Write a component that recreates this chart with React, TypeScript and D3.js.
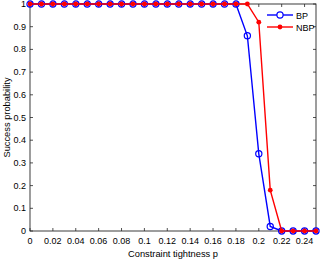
import React from "react";
import * as d3 from "d3";

const pValues = [0,0.01,0.02,0.03,0.04,0.05,0.06,0.07,0.08,0.09,0.1,0.11,0.12,0.13,0.14,0.15,0.16,0.17,0.18,0.19,0.2,0.21,0.22,0.23,0.24,0.25];
const bpValues = [1,1,1,1,1,1,1,1,1,1,1,1,1,1,1,1,1,1,1,0.86,0.34,0.02,0,0,0,0];
const nbpValues = [1,1,1,1,1,1,1,1,1,1,1,1,1,1,1,1,1,1,1,1,0.92,0.18,0,0,0,0];
const xTicks = [0,0.02,0.04,0.06,0.08,0.1,0.12,0.14,0.16,0.18,0.2,0.22,0.24];
const yTicks = [0,0.1,0.2,0.3,0.4,0.5,0.6,0.7,0.8,0.9,1];
const seriesNames = ["BP", "NBP"];

const W = 322, H = 261;
const m = { left: 30, right: 316, top: 4, bottom: 231 };

export default function App() {
  const x = d3.scaleLinear().domain([0, 0.25]).range([m.left, m.right]);
  const y = d3.scaleLinear().domain([0, 1]).range([m.bottom, m.top]);
  const line = d3.line<number>().x((_, i) => x(pValues[i])).y((d) => y(d));
  const font = "'Liberation Sans', Arial, sans-serif";
  const axisColor = "#262626";
  const fmt = (v: number) => (v === 0 ? "0" : String(+v.toFixed(2)));
  return (
    <svg width={W} height={H} style={{ position: "absolute", left: 0, top: 0, background: "#fff" }} fontFamily={font}>
      <rect x={0} y={0} width={W} height={H} fill="#fff" />
      {xTicks.map((t) => (
        <g key={"xt" + t}>
          <line x1={x(t)} x2={x(t)} y1={m.bottom} y2={m.bottom - 3} stroke={axisColor} strokeWidth={0.8} />
          <line x1={x(t)} x2={x(t)} y1={m.top} y2={m.top + 3} stroke={axisColor} strokeWidth={0.8} />
          <text x={x(t)} y={m.bottom + 13} fontSize={9} textAnchor="middle" fill="#000">{fmt(t)}</text>
        </g>
      ))}
      {yTicks.map((t) => (
        <g key={"yt" + t}>
          <line x1={m.left} x2={m.left + 3} y1={y(t)} y2={y(t)} stroke={axisColor} strokeWidth={0.8} />
          <line x1={m.right} x2={m.right - 3} y1={y(t)} y2={y(t)} stroke={axisColor} strokeWidth={0.8} />
          <text x={m.left - 4} y={y(t) + 3} fontSize={9} textAnchor="end" fill="#000">{fmt(t)}</text>
        </g>
      ))}
      <rect x={m.left} y={m.top} width={m.right - m.left} height={m.bottom - m.top} fill="none" stroke={axisColor} strokeWidth={0.9} />
      <path d={line(bpValues) || ""} fill="none" stroke="#0000ff" strokeWidth={1.4} />
      {bpValues.map((v, i) => (
        <circle key={"bp" + i} cx={x(pValues[i])} cy={y(v)} r={3.1} fill="none" stroke="#0000ff" strokeWidth={1.2} />
      ))}
      <path d={line(nbpValues) || ""} fill="none" stroke="#ff0000" strokeWidth={1.4} />
      {nbpValues.map((v, i) => (
        <circle key={"nbp" + i} cx={x(pValues[i])} cy={y(v)} r={2.4} fill="#ff0000" />
      ))}
      <g>
        <line x1={267} x2={293} y1={15} y2={15} stroke="#0000ff" strokeWidth={1.4} />
        <circle cx={280} cy={15} r={3.1} fill="#fff" stroke="#0000ff" strokeWidth={1.2} />
        <text x={296} y={18.5} fontSize={9} fill="#000">{seriesNames[0]}</text>
        <line x1={267} x2={293} y1={27} y2={27} stroke="#ff0000" strokeWidth={1.4} />
        <circle cx={280} cy={27} r={2.4} fill="#ff0000" />
        <text x={296} y={30.5} fontSize={9} fill="#000">{seriesNames[1]}</text>
      </g>
      <text x={(m.left + m.right) / 2} y={257} fontSize={9.3} textAnchor="middle" fill="#000">Constraint tightness p</text>
      <text transform={`translate(10,${(m.top + m.bottom) / 2}) rotate(-90)`} fontSize={9.3} textAnchor="middle" fill="#000">Success probability</text>
    </svg>
  );
}
